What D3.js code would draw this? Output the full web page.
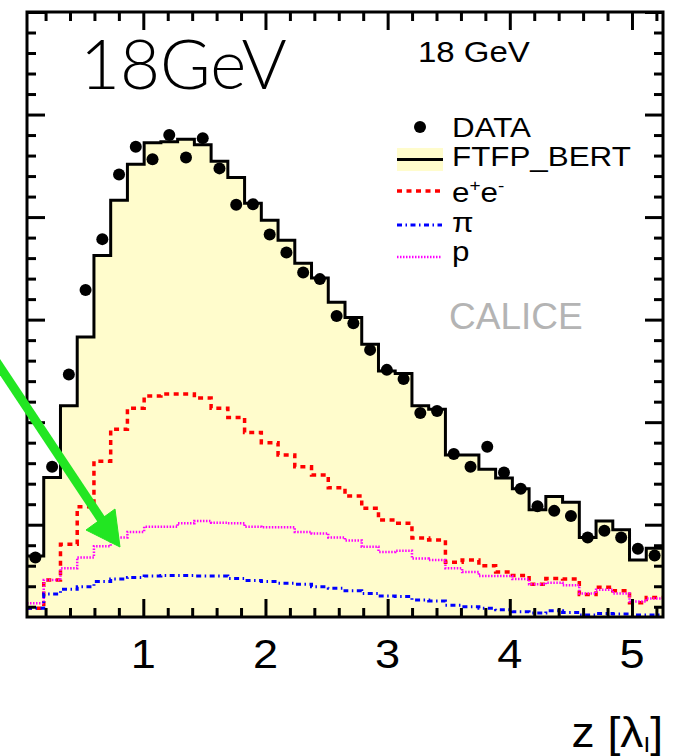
<!DOCTYPE html>
<html>
<head>
<meta charset="utf-8">
<script src="https://cdnjs.cloudflare.com/ajax/libs/d3/7.8.5/d3.min.js"></script>
<style>
  body { margin: 0; background: #fff; }
  text { font-family: "Liberation Sans", Arial, sans-serif; }
</style>
</head>
<body>
<div id="chart"></div>
<script>
var width = 684;
var height = 756;

// layer binning along z, in lambda_I
var zStart = 0.048;
var layerWidth = 0.137;

// FTFP_BERT total (filled histogram)
var ftfp = [0.0139, 0.0292, 0.0432, 0.0566, 0.0725, 0.0833, 0.0903, 0.0945, 0.0947, 0.0952,
            0.0941, 0.0909, 0.0877, 0.0827, 0.0794, 0.0755, 0.0710, 0.0681, 0.0634, 0.0604,
            0.0552, 0.0500, 0.0495, 0.0432, 0.0425, 0.0336, 0.0336, 0.0308, 0.0291, 0.0270,
            0.0229, 0.0255, 0.0244, 0.0175, 0.0207, 0.0190, 0.0131, 0.0154];

// measured data points
var dataPts = [0.0136, 0.0313, 0.0493, 0.0658, 0.0757, 0.0883, 0.0937, 0.0913, 0.0960, 0.0916,
               0.0954, 0.0895, 0.0824, 0.0825, 0.0766, 0.0731, 0.0692, 0.0679, 0.0607, 0.0593,
               0.0541, 0.0502, 0.0484, 0.0418, 0.0422, 0.0338, 0.0313, 0.0352, 0.0302, 0.0270,
               0.0236, 0.0227, 0.0217, 0.0175, 0.0188, 0.0175, 0.0153, 0.0140];

// components
var electrons = [0.0037, 0.0092, 0.0162, 0.0235, 0.0324, 0.0386, 0.0427, 0.0451, 0.0455, 0.0455,
                 0.0447, 0.0427, 0.0409, 0.0380, 0.0360, 0.0336, 0.0313, 0.0297, 0.0272, 0.0256,
                 0.0232, 0.0209, 0.0203, 0.0174, 0.0170, 0.0127, 0.0131, 0.0120, 0.0108, 0.0101,
                 0.0084, 0.0095, 0.0094, 0.0064, 0.0078, 0.0071, 0.0048, 0.0058];

var pions = [0.0037, 0.0065, 0.0074, 0.0079, 0.0089, 0.0094, 0.0097, 0.0100, 0.0101, 0.0101,
             0.0100, 0.0100, 0.0095, 0.0091, 0.0089, 0.0086, 0.0084, 0.0079, 0.0076, 0.0071,
             0.0066, 0.0061, 0.0060, 0.0053, 0.0051, 0.0043, 0.0040, 0.0037, 0.0034, 0.0030,
             0.0028, 0.0032, 0.0029, 0.0024, 0.0027, 0.0026, 0.0024, 0.0024];

var protons = [0.0047, 0.0092, 0.0115, 0.0136, 0.0158, 0.0175, 0.0186, 0.0196, 0.0196, 0.0203,
               0.0207, 0.0204, 0.0203, 0.0196, 0.0195, 0.0195, 0.0186, 0.0183, 0.0175, 0.0169,
               0.0157, 0.0147, 0.0149, 0.0134, 0.0131, 0.0115, 0.0108, 0.0100, 0.0100, 0.0094,
               0.0084, 0.0087, 0.0082, 0.0066, 0.0073, 0.0066, 0.0050, 0.0056];

var xTickLabels = [1, 2, 3, 4, 5];

var fillYellow = "#fffccc";

function createSVG(width, height) {
  return d3.select("#chart")
    .append("svg")
    .attr("width", width)
    .attr("height", height);
}

var svg = createSVG(width, height);

var x = d3.scaleLinear().domain([zStart, zStart + 38 * layerWidth]).range([27, 663]);
var y = d3.scaleLinear().domain([0.002, 0.12]).range([617, 12]);

// turn bin contents into step points
function steps(values) {
  var pts = [];
  values.forEach(function(v, i) {
    pts.push([zStart + i * layerWidth, v]);
    pts.push([zStart + (i + 1) * layerWidth, v]);
  });
  return pts;
}

var line = d3.line()
  .x(function(d) { return x(d[0]); })
  .y(function(d) { return y(d[1]); });

var area = d3.area()
  .x(function(d) { return x(d[0]); })
  .y0(y(0.002))
  .y1(function(d) { return y(d[1]); });

// filled FTFP_BERT
svg.append("path")
  .attr("d", area(steps(ftfp)))
  .style("fill", fillYellow);

var compStyles = [
  { values: electrons, color: "#ff0000", width: 3.5, dash: "5,4.5" },
  { values: protons, color: "#ff00ff", width: 2.5, dash: "1.5,1.5" },
  { values: pions, color: "#0000ff", width: 3, dash: "5,3.5,1.5,3.5" }
];

compStyles.forEach(function(c) {
  svg.append("path")
    .attr("d", line(steps(c.values)))
    .style("fill", "none")
    .style("stroke", c.color)
    .style("stroke-width", c.width)
    .style("stroke-dasharray", c.dash);
});

svg.append("path")
  .attr("d", line(steps(ftfp)))
  .style("fill", "none")
  .style("stroke", "black")
  .style("stroke-width", 3);

svg.selectAll("circle.data")
  .data(dataPts)
  .enter()
  .append("circle")
  .attr("class", "data")
  .attr("cx", function(d, i) { return x(zStart + (i + 0.5) * layerWidth); })
  .attr("cy", function(d) { return y(d); })
  .attr("r", 6)
  .style("fill", "black");

// axes ticks (inside, all four sides)
var xMinor = d3.range(0.2, 5.21, 0.2).filter(function(v) { return Math.abs(v - Math.round(v)) > 0.01; });
var yMajor = d3.range(0.02, 0.121, 0.02);
var yMinor = d3.range(0.004, 0.1201, 0.004).filter(function(v) { return Math.abs(v / 0.02 - Math.round(v / 0.02)) > 0.01; });

function tickAxis(axisFn, scale, values, size, transform) {
  var g = svg.append("g")
    .attr("transform", transform)
    .call(axisFn(scale).tickValues(values).tickSizeInner(-size).tickSizeOuter(0).tickFormat(""));
  g.select(".domain").remove();
  g.selectAll("line").style("stroke", "black").style("stroke-width", 3);
  return g;
}

tickAxis(d3.axisBottom, x, xTickLabels, 18, "translate(0,617)");
tickAxis(d3.axisBottom, x, xMinor, 9, "translate(0,617)");
tickAxis(d3.axisTop, x, xTickLabels, 18, "translate(0,12)");
tickAxis(d3.axisTop, x, xMinor, 9, "translate(0,12)");
tickAxis(d3.axisLeft, y, yMajor, 18, "translate(27,0)");
tickAxis(d3.axisLeft, y, yMinor, 9, "translate(27,0)");
tickAxis(d3.axisRight, y, yMajor, 18, "translate(663,0)");
tickAxis(d3.axisRight, y, yMinor, 9, "translate(663,0)");

// frame
svg.append("rect")
  .attr("x", 27).attr("y", 12)
  .attr("width", 636).attr("height", 605)
  .style("fill", "none")
  .style("stroke", "black")
  .style("stroke-width", 3);

// helper: text with slight horizontal stretch like the original
function label(px, py, str, size, sx, anchor, color) {
  return svg.append("text")
    .attr("transform", "translate(" + px + "," + py + ") scale(" + sx + ",1)")
    .attr("text-anchor", anchor || "start")
    .style("font-size", size + "px")
    .style("fill", color || "black")
    .text(str);
}

// x tick labels
xTickLabels.forEach(function(v) {
  label(x(v), 668, v, 41, 1.1, "middle");
});

// axis title z [lambda_I]
var title = svg.append("text")
  .attr("transform", "translate(663,747) scale(1.1,1)")
  .attr("text-anchor", "end")
  .style("font-size", "42px");
title.append("tspan").text("z [\u03bb");
title.append("tspan").attr("dy", 5).style("font-size", "22px").text("I");
title.append("tspan").attr("dy", -5).text("]");

// big energy label
svg.append("text")
  .attr("x", 80).attr("y", 89)
  .style("font-family", "Lato, 'Open Sans', sans-serif")
  .style("font-weight", 300)
  .style("font-size", "69px")
  .text("18GeV");

label(418, 62, "18 GeV", 30, 1.1);
label(449, 329, "CALICE", 37, 1.0, "start", "#b4b4b4");

// legend
var legend = svg.append("g");

legend.append("circle").attr("cx", 420).attr("cy", 127).attr("r", 6).style("fill", "black");
legend.append("rect").attr("x", 397).attr("y", 148).attr("width", 46).attr("height", 23).style("fill", fillYellow);
legend.append("line").attr("x1", 397).attr("x2", 443).attr("y1", 159.5).attr("y2", 159.5)
  .style("stroke", "black").style("stroke-width", 3);

var legendLines = [
  { y: 191, style: compStyles[0] },
  { y: 225, style: compStyles[2] },
  { y: 257, style: compStyles[1] }
];
legendLines.forEach(function(d) {
  legend.append("line")
    .attr("x1", 397).attr("x2", 442).attr("y1", d.y).attr("y2", d.y)
    .style("stroke", d.style.color)
    .style("stroke-width", d.style.width)
    .style("stroke-dasharray", d.style.dash);
});

label(452, 137, "DATA", 28, 1.12);
label(452, 166, "FTFP_BERT", 28, 1.12);
var ee = label(452, 202, "", 28, 1.12);
ee.append("tspan").text("e");
ee.append("tspan").attr("dy", -11).style("font-size", "17px").text("+");
ee.append("tspan").attr("dy", 11).text("e");
ee.append("tspan").attr("dy", -11).style("font-size", "17px").text("-");
label(452, 232, "\u03c0", 28, 1.12);
label(452, 261, "p", 28, 1.12);

// green annotation arrow
var arrow = svg.append("g").style("fill", "#22e622").style("stroke", "#22e622");
arrow.append("line")
  .attr("x1", -10).attr("y1", 352).attr("x2", 103).attr("y2", 522)
  .style("stroke-width", 9);
arrow.append("polygon")
  .attr("points", "120,547 86,530 115,509")
  .style("stroke-width", 1);
</script>
</body>
</html>
